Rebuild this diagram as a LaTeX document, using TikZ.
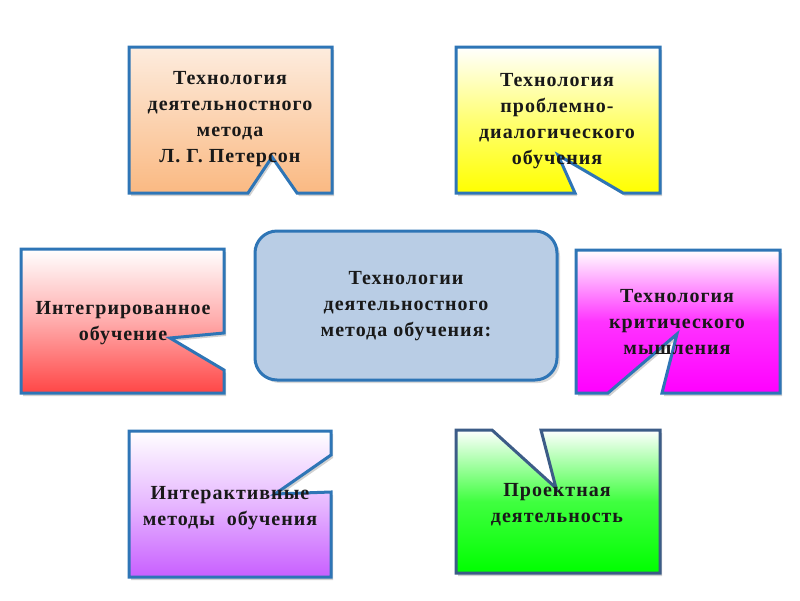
\documentclass[tikz,border=0pt]{standalone}
\usepackage{fontspec}
\setmainfont{Liberation Serif}[LetterSpace=5]
\definecolor{bordblue}{RGB}{46,117,182}
\definecolor{bordslate}{RGB}{60,92,135}
\definecolor{centfill}{RGB}{185,205,229}
\definecolor{peach}{RGB}{250,185,130}
\definecolor{peachtop}{RGB}{253,236,222}
\definecolor{redf}{RGB}{255,70,70}
\definecolor{violetf}{RGB}{200,95,255}
\tikzset{
  card/.style={line width=3pt, line join=miter},
  txt/.style={align=center, font=\fontsize{20}{26}\selectfont\bfseries, text=black!90},
  shadowpath/.style={fill=black!18, draw=none}
}
\begin{document}
\begin{tikzpicture}[x=1pt,y=-1pt]
\useasboundingbox (0,0) rectangle (800,600);
\fill[white] (0,0) rectangle (800,600);
% shadows
\begin{scope}[shift={(2,3)}]
\fill[shadowpath] (129,47) -- (332,47) -- (332,193) -- (297,193) -- (272,157) -- (248,193) -- (129,193) -- cycle;
\fill[shadowpath] (456,47) -- (660,47) -- (660,193) -- (623,193) -- (558,155) -- (575,193) -- (456,193) -- cycle;
\fill[shadowpath] (21,249) -- (224,249) -- (224,333) -- (170,338) -- (224,370) -- (224,393) -- (21,393) -- cycle;
\fill[shadowpath] (576,250) -- (780,250) -- (780,393) -- (662,393) -- (677,334) -- (608,393) -- (576,393) -- cycle;
\fill[shadowpath] (129,431) -- (331,431) -- (331,455) -- (275,494) -- (331,492) -- (331,577) -- (129,577) -- cycle;
\fill[shadowpath] (456,430) -- (492,430) -- (556,488) -- (541,430) -- (660,430) -- (660,573) -- (456,573) -- cycle;
\end{scope}
% box 1 orange
\shade[top color=peachtop, bottom color=peach] (129,47) -- (332,47) -- (332,193) -- (297,193) -- (272,157) -- (248,193) -- (129,193) -- cycle;
\draw[card, draw=bordblue] (129,47) -- (332,47) -- (332,193) -- (297,193) -- (272,157) -- (248,193) -- (129,193) -- cycle;
% box 2 yellow
\shade[top color=white, bottom color=yellow, middle color=yellow!55] (456,47) -- (660,47) -- (660,193) -- (623,193) -- (558,155) -- (575,193) -- (456,193) -- cycle;
\draw[card, draw=bordblue] (456,47) -- (660,47) -- (660,193) -- (623,193) -- (558,155) -- (575,193) -- (456,193) -- cycle;
% box 3 red
\shade[top color=white, bottom color=redf, middle color=redf!45] (21,249) -- (224,249) -- (224,333) -- (170,338) -- (224,370) -- (224,393) -- (21,393) -- cycle;
\draw[card, draw=bordblue] (21,249) -- (224,249) -- (224,333) -- (170,338) -- (224,370) -- (224,393) -- (21,393) -- cycle;
% box 4 magenta
\shade[top color=white, bottom color=magenta, middle color=magenta!80] (576,250) -- (780,250) -- (780,393) -- (662,393) -- (677,334) -- (608,393) -- (576,393) -- cycle;
\draw[card, draw=bordblue] (576,250) -- (780,250) -- (780,393) -- (662,393) -- (677,334) -- (608,393) -- (576,393) -- cycle;
% box 5 violet
\shade[top color=white, bottom color=violetf, middle color=violetf!45] (129,431) -- (331,431) -- (331,455) -- (275,494) -- (331,492) -- (331,577) -- (129,577) -- cycle;
\draw[card, draw=bordblue] (129,431) -- (331,431) -- (331,455) -- (275,494) -- (331,492) -- (331,577) -- (129,577) -- cycle;
% box 6 green
\shade[top color=white, bottom color=green, middle color=green!75] (456,430) -- (492,430) -- (556,488) -- (541,430) -- (660,430) -- (660,573) -- (456,573) -- cycle;
\draw[card, draw=bordslate] (456,430) -- (492,430) -- (556,488) -- (541,430) -- (660,430) -- (660,573) -- (456,573) -- cycle;
% central
\fill[black!15, rounded corners=22pt] (258,234) rectangle (560,383);
\draw[line width=3pt, draw=bordblue, fill=centfill, rounded corners=22pt] (255,231) rectangle (557,380);
% texts
\node[txt] (t1) at (230,119) {Технология\\деятельностного\\метода\\Л. Г. Петерсон};
\node[txt] (t2) at (557,121) {Технология\\проблемно-\\диалогического\\обучения};
\node[txt] (t3) at (123,323) {Интегрированное\\обучение};
\node[txt] (t4) at (677,322) {Технология\\критического\\мышления};
\node[txt] (t5) at (230,508) {Интерактивные\\методы\hspace{12pt}обучения};
\node[txt] (t6) at (557,505) {Проектная\\деятельность};
\node[txt] (tc) at (406,306) {Технологии\\деятельностного\\метода обучения:};
\end{tikzpicture}
\end{document}
